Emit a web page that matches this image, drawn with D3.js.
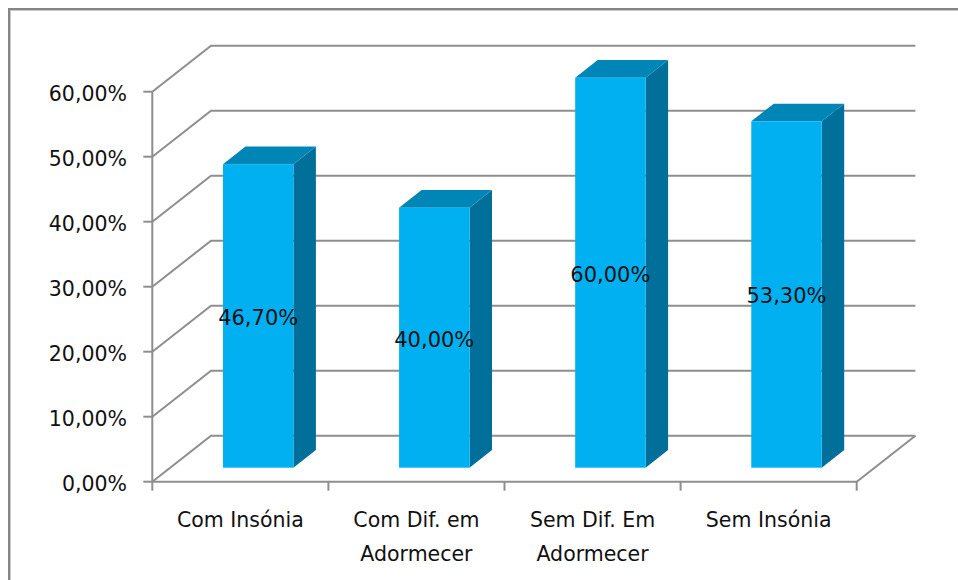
<!DOCTYPE html>
<html>
<head>
<meta charset="utf-8">
<script src="https://cdn.jsdelivr.net/npm/d3@7"></script>
<style>
  html, body { margin: 0; padding: 0; background: #fff; }
  svg { display: block; }
  text { font-family: "DejaVu Sans", sans-serif; fill: #111; }
</style>
</head>
<body>
<svg id="chart" width="958" height="580"></svg>
<script>
// Chart data
const categories = [["Com Insónia"], ["Com Dif. em", "Adormecer"], ["Sem Dif. Em", "Adormecer"], ["Sem Insónia"]];
const values = [0.467, 0.40, 0.60, 0.533];
const tickValues = [0, 0.1, 0.2, 0.3, 0.4, 0.5, 0.6];

const W = 958, H = 580;
const svg = d3.select("#chart");

// Comma as decimal separator
const locale = d3.formatLocale({ decimal: ",", thousands: ".", grouping: [3], currency: ["", "€"] });
const pct = locale.format(".2%");

// Geometry of the 3D plot box
const x0 = 152.3, x1 = 856.7;      // front floor edge
const yBase = 481.7, yTop = 91.7;   // front 0% and 60%
const depth = { dx: 58.7, dy: -46 };
const barDepth = [0.304, 0.687];    // bar front/back as fraction of depth

const y = d3.scaleLinear().domain([0, 0.6]).range([yBase, yTop]);
const keys = categories.map((c, i) => i);
const xCat = d3.scaleBand().domain(keys).range([x0, x1]).padding(0);
const xBar = d3.scaleBand().domain(keys).range([x0, x1]).paddingInner(0.6).paddingOuter(0.3);

// Outer frame
svg.append("rect").attr("x", 9).attr("y", 9).attr("width", W).attr("height", H)
  .attr("fill", "none").attr("stroke", "#858585").attr("stroke-width", 2);
svg.append("rect").attr("x", 10.5).attr("y", 10.5).attr("width", W).attr("height", H)
  .attr("fill", "none").attr("stroke", "#c8c8c8").attr("stroke-width", 1);

const grid = svg.append("g").attr("fill", "none").attr("stroke", "#8e8e8e").attr("stroke-width", 2);

// Gridlines: side wall diagonal + back wall horizontal
tickValues.forEach(v => {
  const yy = y(v);
  grid.append("path").attr("d", d3.line()([
    [x0, yy], [x0 + depth.dx, yy + depth.dy], [x1 + depth.dx, yy + depth.dy]
  ]));
});

// Floor outline
grid.append("path").attr("d", d3.line()([
  [x0, yBase], [x1, yBase], [x1 + depth.dx, yBase + depth.dy]
]));

// Value axis
grid.append("line").attr("x1", x0).attr("x2", x0).attr("y1", y(0.6)).attr("y2", yBase);
tickValues.forEach(v => {
  grid.append("line").attr("x1", x0 - 9).attr("x2", x0).attr("y1", y(v)).attr("y2", y(v));
});
svg.append("g").selectAll("text").data(tickValues).join("text")
  .attr("x", 127).attr("y", d => y(d) + 9.5)
  .attr("text-anchor", "end").attr("font-size", 20.5)
  .text(d => pct(d));

// Category ticks
const catEdges = keys.map(k => xCat(k)).concat([x1]);
catEdges.forEach(cx => {
  grid.append("line").attr("x1", cx).attr("x2", cx).attr("y1", yBase).attr("y2", yBase + 9);
});

// Category labels
const catG = svg.append("g");
categories.forEach((lines, i) => {
  const t = catG.append("text").attr("text-anchor", "middle").attr("font-size", 20.5)
    .attr("x", xCat(i) + xCat.bandwidth() / 2).attr("y", 526.5);
  lines.forEach((ln, j) => {
    t.append("tspan").attr("x", xCat(i) + xCat.bandwidth() / 2).attr("dy", j === 0 ? 0 : 34).text(ln);
  });
});

// Bars
const barsG = svg.append("g");
const fOff = { dx: depth.dx * barDepth[0], dy: depth.dy * barDepth[0] };
const bDx = depth.dx * (barDepth[1] - barDepth[0]);
const bDy = depth.dy * (barDepth[1] - barDepth[0]);
values.forEach((v, i) => {
  const left = xBar(i) + fOff.dx;
  const right = left + xBar.bandwidth();
  const bottom = y(0) + fOff.dy;
  const top = y(v) + fOff.dy;
  const g = barsG.append("g");
  // side
  g.append("path").attr("fill", "#006f99").attr("d", d3.line()([
    [right, bottom], [right + bDx, bottom + bDy], [right + bDx, top + bDy], [right, top]
  ]) + "Z");
  // top
  g.append("path").attr("fill", "#0086b6").attr("d", d3.line()([
    [left, top], [left + bDx, top + bDy], [right + bDx, top + bDy], [right, top]
  ]) + "Z");
  // front
  g.append("rect").attr("fill", "#00b0f0")
    .attr("x", left).attr("y", top).attr("width", right - left).attr("height", bottom - top);
  // value label
  g.append("text").attr("text-anchor", "middle").attr("font-size", 21)
    .attr("x", (left + right) / 2).attr("y", (top + bottom) / 2 + 9)
    .text(pct(v));
});
</script>
</body>
</html>
